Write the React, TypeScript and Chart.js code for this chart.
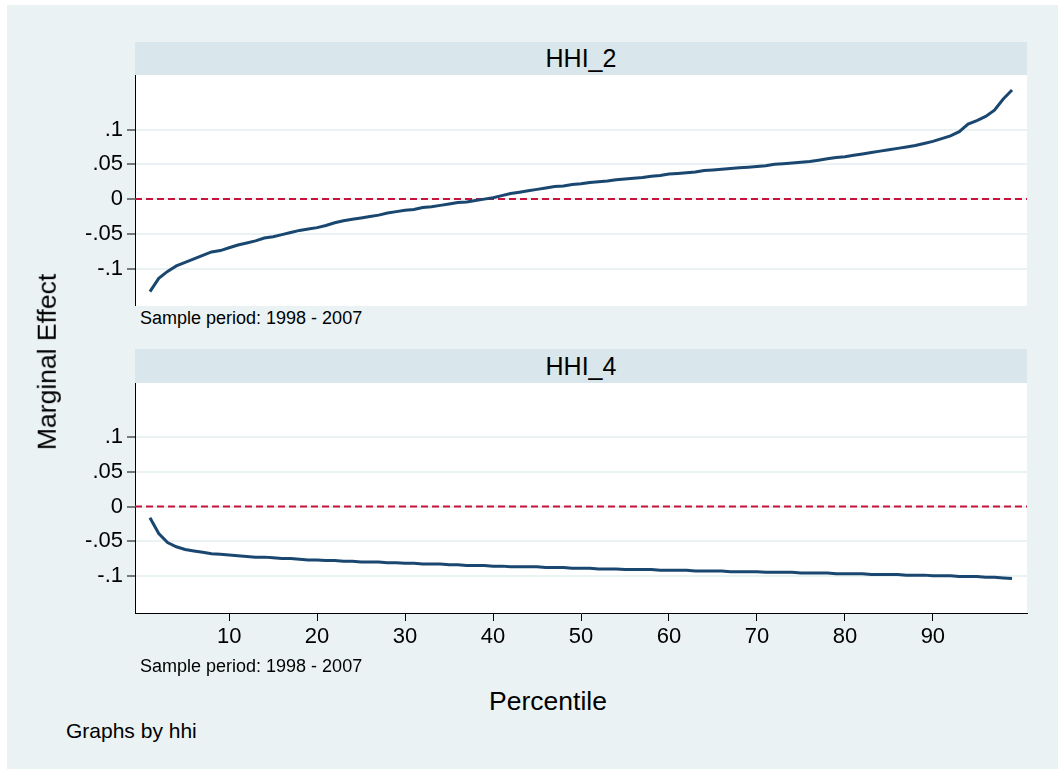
import React, { useEffect, useRef } from "react";
import { Chart, registerables } from "chart.js";

Chart.register(...registerables);

const percentiles = [
  1, 2, 3, 4, 5, 6, 7, 8, 9, 10, 11, 12, 13, 14, 15, 16, 17, 18, 19, 20,
  21, 22, 23, 24, 25, 26, 27, 28, 29, 30, 31, 32, 33, 34, 35, 36, 37, 38, 39, 40,
  41, 42, 43, 44, 45, 46, 47, 48, 49, 50, 51, 52, 53, 54, 55, 56, 57, 58, 59, 60,
  61, 62, 63, 64, 65, 66, 67, 68, 69, 70, 71, 72, 73, 74, 75, 76, 77, 78, 79, 80,
  81, 82, 83, 84, 85, 86, 87, 88, 89, 90, 91, 92, 93, 94, 95, 96, 97, 98, 99,
];

const hhi2 = [
  -0.133, -0.114, -0.104, -0.096, -0.091, -0.086, -0.081, -0.076, -0.074, -0.07,
  -0.066, -0.063, -0.06, -0.056, -0.054, -0.051, -0.048, -0.045, -0.043, -0.041,
  -0.038, -0.034, -0.031, -0.029, -0.027, -0.025, -0.023, -0.02, -0.018, -0.016,
  -0.015, -0.012, -0.011, -0.009, -0.007, -0.005, -0.004, -0.002, 0.0, 0.002,
  0.005, 0.008, 0.01, 0.012, 0.014, 0.016, 0.018, 0.019, 0.021, 0.022,
  0.024, 0.025, 0.026, 0.028, 0.029, 0.03, 0.031, 0.033, 0.034, 0.036,
  0.037, 0.038, 0.039, 0.041, 0.042, 0.043, 0.044, 0.045, 0.046, 0.047,
  0.048, 0.05, 0.051, 0.052, 0.053, 0.054, 0.056, 0.058, 0.06, 0.061,
  0.063, 0.065, 0.067, 0.069, 0.071, 0.073, 0.075, 0.077, 0.08, 0.083,
  0.087, 0.091, 0.097, 0.108, 0.113, 0.119, 0.128, 0.144, 0.157,
];

const hhi4 = [
  -0.016, -0.039, -0.052, -0.058, -0.062, -0.064, -0.066, -0.068, -0.069, -0.07,
  -0.071, -0.072, -0.073, -0.073, -0.074, -0.075, -0.075, -0.076, -0.077, -0.077,
  -0.078, -0.078, -0.079, -0.079, -0.08, -0.08, -0.08, -0.081, -0.081, -0.082,
  -0.082, -0.083, -0.083, -0.083, -0.084, -0.084, -0.085, -0.085, -0.085, -0.086,
  -0.086, -0.087, -0.087, -0.087, -0.087, -0.088, -0.088, -0.088, -0.089, -0.089,
  -0.089, -0.09, -0.09, -0.09, -0.091, -0.091, -0.091, -0.091, -0.092, -0.092,
  -0.092, -0.092, -0.093, -0.093, -0.093, -0.093, -0.094, -0.094, -0.094, -0.094,
  -0.095, -0.095, -0.095, -0.095, -0.096, -0.096, -0.096, -0.096, -0.097, -0.097,
  -0.097, -0.097, -0.098, -0.098, -0.098, -0.098, -0.099, -0.099, -0.099, -0.1,
  -0.1, -0.1, -0.101, -0.101, -0.101, -0.102, -0.102, -0.103, -0.104,
];

const yTicks = [-0.1, -0.05, 0, 0.05, 0.1];
const yTickLabels = ["-.1", "-.05", "0", ".05", ".1"];
const xTicks = [10, 20, 30, 40, 50, 60, 70, 80, 90];

const panelTitles = ["HHI_2", "HHI_4"];
const noteText = "Sample period: 1998 - 2007";
const yTitle = "Marginal Effect";
const xTitle = "Percentile";
const byNote = "Graphs by hhi";

const FONT = "'Liberation Sans', Arial, Helvetica, sans-serif";
const BG = "#eaf2f3";
const STRIP = "#d9e6eb";
const LINE = "#1a476f";
const REF = "#c8143c";

const zeroLinePlugin = {
  id: "zeroLine",
  beforeDatasetsDraw(chart: any) {
    const { ctx, chartArea } = chart;
    const y = chart.scales.y.getPixelForValue(0);
    ctx.save();
    ctx.strokeStyle = REF;
    ctx.lineWidth = 2;
    ctx.setLineDash([7, 4]);
    ctx.beginPath();
    ctx.moveTo(chartArea.left, y);
    ctx.lineTo(chartArea.right, y);
    ctx.stroke();
    ctx.restore();
  },
};

function Panel({ values, showX, top, height }: { values: number[]; showX: boolean; top: number; height: number }) {
  const ref = useRef<HTMLCanvasElement | null>(null);
  useEffect(() => {
    if (!ref.current) return;
    const chart = new Chart(ref.current, {
      type: "line",
      data: {
        datasets: [
          {
            data: percentiles.map((p, i) => ({ x: p, y: values[i] })),
            borderColor: LINE,
            borderWidth: 3,
            pointRadius: 0,
            tension: 0,
            fill: false,
          },
        ],
      },
      options: {
        animation: false,
        responsive: false,
        devicePixelRatio: 1,
        layout: { padding: { left: 0, right: 31, top: 0, bottom: 0 } },
        plugins: { legend: { display: false }, tooltip: { enabled: false }, title: { display: false } },
        scales: {
          x: {
            type: "linear",
            display: showX,
            min: -0.7,
            max: 100.7,
            afterBuildTicks: (s: any) => {
              s.ticks = xTicks.map((v) => ({ value: v }));
            },
            afterFit: (s: any) => {
              s.height = showX ? 45 : 0;
              s.paddingLeft = 0;
              s.paddingRight = 0;
              s.paddingTop = 0;
              s.paddingBottom = 0;
            },
            grid: { drawOnChartArea: false, tickLength: 8, tickColor: "#000", tickWidth: 1 },
            border: { color: "#000", width: 1 },
            ticks: { color: "#000", font: { family: FONT, size: 22 }, padding: 3, maxRotation: 0 },
          },
          y: {
            type: "linear",
            min: -0.1537,
            max: 0.1785,
            afterBuildTicks: (s: any) => {
              s.ticks = yTicks.map((v) => ({ value: v }));
            },
            afterFit: (s: any) => {
              s.width = 135;
              s.paddingLeft = 0;
              s.paddingRight = 0;
              s.paddingTop = 0;
              s.paddingBottom = 0;
            },
            grid: { color: BG, lineWidth: 2, tickLength: 8, tickColor: "#000", tickWidth: 1 },
            border: { color: "#000", width: 1 },
            ticks: {
              color: "#000",
              font: { family: FONT, size: 22 },
              padding: 4,
              callback: (v: any) => {
                const idx = yTicks.findIndex((t) => Math.abs(t - v) < 1e-9);
                return idx >= 0 ? yTickLabels[idx] : "";
              },
            },
          },
        },
      },
      plugins: [zeroLinePlugin],
    } as any);
    return () => chart.destroy();
  }, [values, showX]);
  return (
    <canvas
      ref={ref}
      width={1058}
      height={height}
      style={{ position: "absolute", left: 0, top, width: 1058, height }}
    />
  );
}

const textBase: React.CSSProperties = {
  position: "absolute",
  fontFamily: FONT,
  color: "#000",
  whiteSpace: "nowrap",
  lineHeight: 1,
};

const stripStyle: React.CSSProperties = {
  position: "absolute",
  left: 135,
  width: 892,
  background: STRIP,
  display: "flex",
  alignItems: "center",
  justifyContent: "center",
  fontFamily: FONT,
  fontSize: 25,
  lineHeight: 1,
};

export default function App() {
  return (
    <div style={{ position: "fixed", left: 0, top: 0, width: 1058, height: 769, background: "#fff", overflow: "hidden" }}>
      <div style={{ position: "absolute", left: 7, top: 5, right: 0, bottom: 0, background: BG }} />
      <div style={{ ...stripStyle, top: 42, height: 33 }}>{panelTitles[0]}</div>
      <div style={{ ...stripStyle, top: 349, height: 34 }}>{panelTitles[1]}</div>
      <div style={{ position: "absolute", left: 135, top: 75, width: 892, height: 231, background: "#fff" }} />
      <div style={{ position: "absolute", left: 135, top: 383, width: 892, height: 230, background: "#fff" }} />
      <Panel values={hhi2} showX={false} top={75} height={231} />
      <Panel values={hhi4} showX={true} top={383} height={275} />
      <div style={{ ...textBase, left: 140, top: 309, fontSize: 18 }}>{noteText}</div>
      <div style={{ ...textBase, left: 140, top: 657, fontSize: 18 }}>{noteText}</div>
      <div
        style={{
          ...textBase,
          left: 47,
          top: 362,
          fontSize: 26.5,
          transform: "translate(-50%, -50%) rotate(-90deg)",
        }}
      >
        {yTitle}
      </div>
      <div style={{ ...textBase, left: 548, top: 701, fontSize: 26.5, transform: "translate(-50%, -50%)" }}>{xTitle}</div>
      <div style={{ ...textBase, left: 66, top: 720, fontSize: 21 }}>{byNote}</div>
    </div>
  );
}
